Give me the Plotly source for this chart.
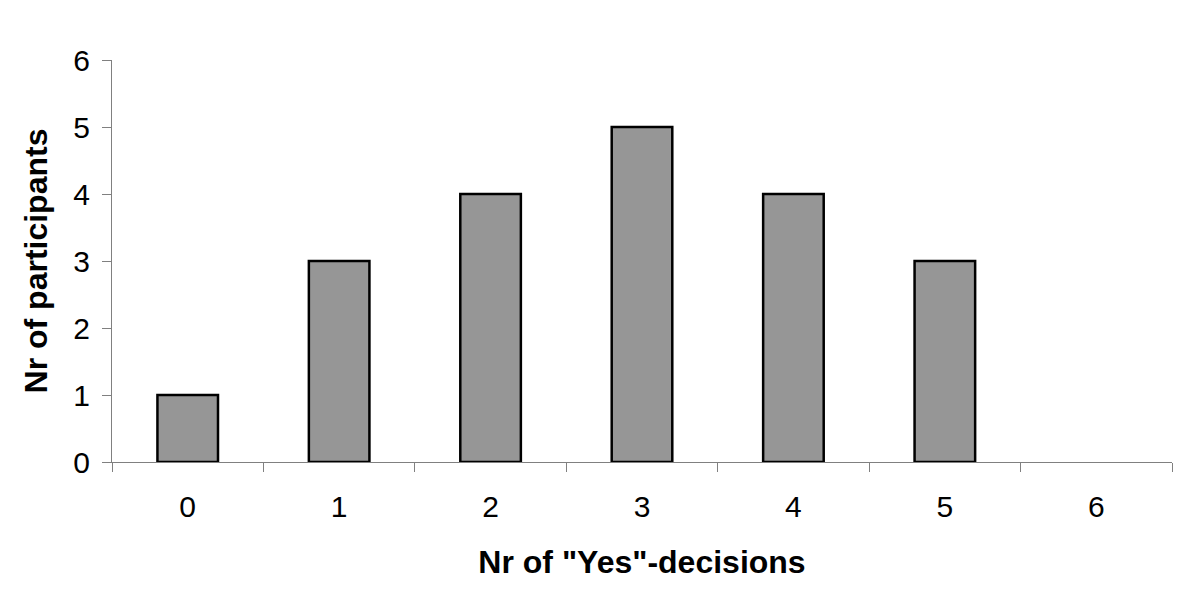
import plotly.graph_objects as go

categories = ["0", "1", "2", "3", "4", "5", "6"]
participants = [1, 3, 4, 5, 4, 3, 0]
y_ticks = [0, 1, 2, 3, 4, 5, 6]

FONT = "Arial, 'Liberation Sans', sans-serif"

# no outline for empty (zero-height) bars
outline_widths = [2.5 if v > 0 else 0 for v in participants]

fig = go.Figure(
    go.Bar(
        x=categories,
        y=participants,
        width=0.4,
        marker=dict(color="#969696", line=dict(color="black", width=outline_widths)),
    )
)

fig.update_layout(
    width=1200,
    height=589,
    margin=dict(l=104, r=36, t=52, b=135, autoexpand=False),
    paper_bgcolor="white",
    plot_bgcolor="white",
    showlegend=False,
    font=dict(family=FONT, color="black"),
    xaxis=dict(
        type="category",
        tickson="boundaries",
        ticks="outside",
        ticklen=9,
        tickcolor="#808080",
        tickwidth=1,
        showline=True,
        linecolor="#808080",
        linewidth=1,
        showgrid=False,
        automargin=False,
        tickfont=dict(size=30, family=FONT),
        ticklabelstandoff=18,
        title=dict(text="<b>Nr of \"Yes\"-decisions</b>", font=dict(size=32, family=FONT), standoff=28),
    ),
    yaxis=dict(
        range=[0, 6],
        tickvals=y_ticks,
        ticks="outside",
        ticklen=9,
        tickcolor="#808080",
        tickwidth=1,
        showline=True,
        linecolor="#808080",
        linewidth=1,
        showgrid=False,
        zeroline=False,
        automargin=False,
        tickfont=dict(size=30, family=FONT),
        ticklabelstandoff=6,
        title=dict(text="<b>Nr of participants</b>", font=dict(size=32, family=FONT), standoff=16),
    ),
)

fig.write_html("out.html")
